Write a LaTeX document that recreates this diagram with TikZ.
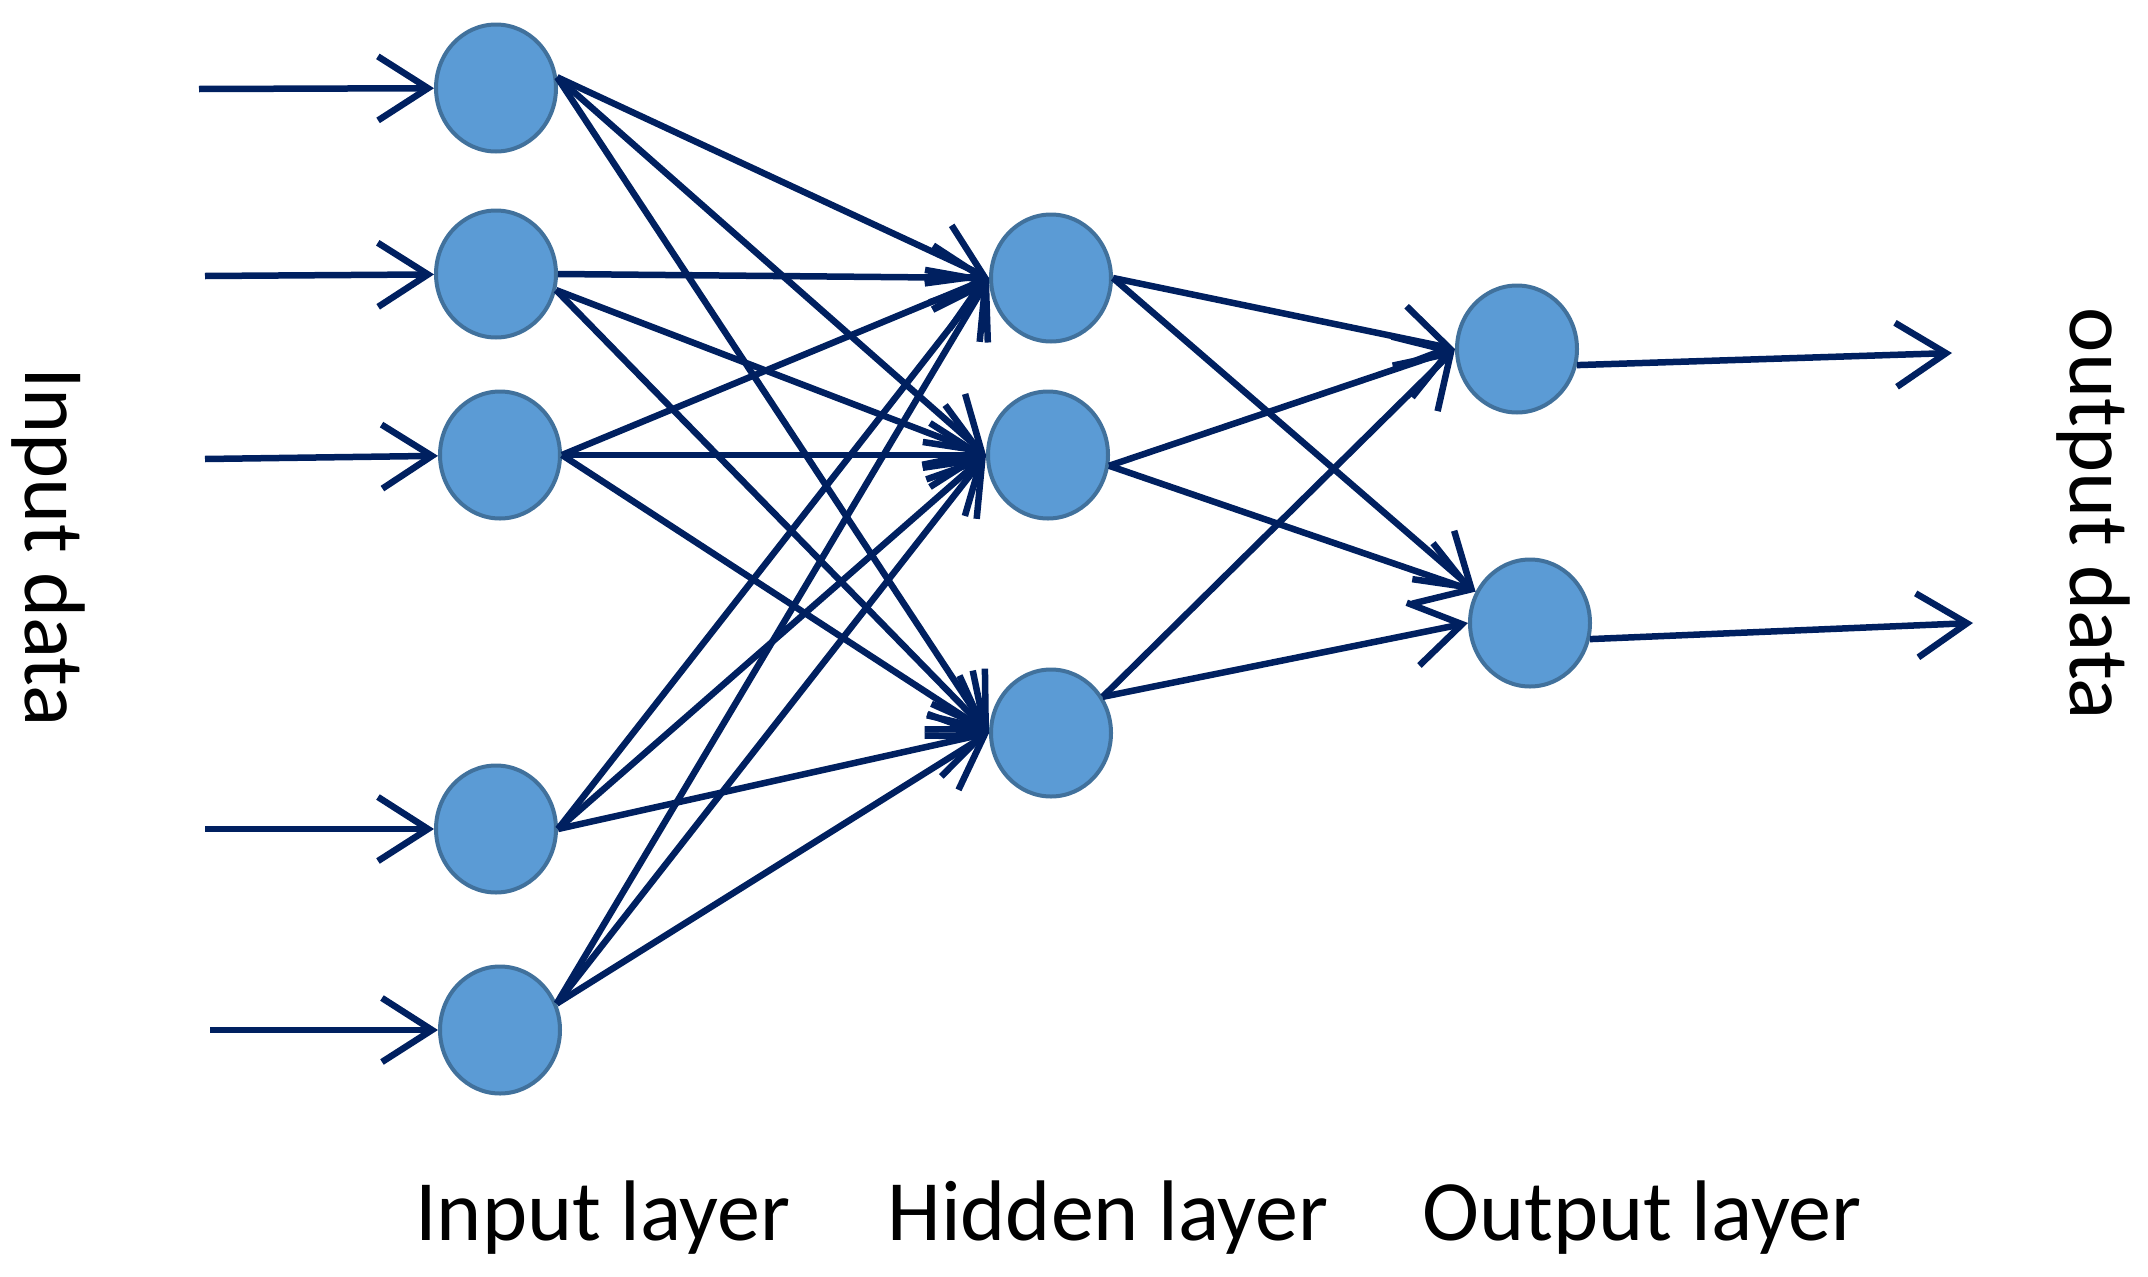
\documentclass[tikz,border=0pt]{standalone}
\usepackage{fontspec}
\setmainfont{Carlito}
\usepackage{tikz}
\usetikzlibrary{arrows.meta, shapes.geometric}
\definecolor{nnFill}{HTML}{5B9BD5}
\definecolor{nnRim}{HTML}{41719C}
\definecolor{nnNavy}{HTML}{002060}
\tikzstyle{neuron} =[ellipse, fill=nnFill, draw=nnRim, line width=4pt, minimum width=120pt, minimum height=127pt, inner sep=0pt]
\tikzstyle{wire} =[draw, -{Straight Barb[length=50pt,width=64pt]}, line width=6.5pt, nnNavy]
\tikzstyle{caption} =[font=\fontsize{86}{100}\selectfont, text=black, inner sep=0pt]

\begin{document}
\begin{tikzpicture}[x=1pt, y=-1pt]
\useasboundingbox (0,0) rectangle (2148,1277);

\node (in1) [neuron] at (496,88) {};
\node (in2) [neuron] at (496,274) {};
\node (in3) [neuron] at (500,455) {};
\node (in4) [neuron] at (496,829) {};
\node (in5) [neuron] at (500,1030) {};

\node (hid1) [neuron] at (1051,278) {};
\node (hid2) [neuron] at (1048,455) {};
\node (hid3) [neuron] at (1051,733) {};

\node (out1) [neuron] at (1517,349) {};
\node (out2) [neuron] at (1530,623) {};

\coordinate (src1) at (199,89);
\coordinate (src2) at (205,276);
\coordinate (src3) at (205,459);
\coordinate (src4) at (205,829);
\coordinate (src5) at (210,1030);
\coordinate (dst1) at (1952,353);
\coordinate (dst2) at (1973,623);

\path
	(src1) edge[wire] (in1) (src2) edge[wire] (in2) (src3) edge[wire] (in3)
	(src4) edge[wire] (in4) (src5) edge[wire] (in5);

\path
	(in1.10) edge[wire] (hid1.west) (in1.10) edge[wire] (hid2.west) (in1.10) edge[wire] (hid3.west)
	(in2.east) edge[wire] (hid1.west) (in2.-15) edge[wire] (hid2.west) (in2.-15) edge[wire] (hid3.west)
	(in3.east) edge[wire] (hid1.west) (in3.east) edge[wire] (hid2.west) (in3.east) edge[wire] (hid3.west)
	(in4.east) edge[wire] (hid1.west) (in4.east) edge[wire] (hid2.west) (in4.east) edge[wire] (hid3.west)
	(in5.25) edge[wire] (hid1.west) (in5.25) edge[wire] (hid2.west) (in5.25) edge[wire] (hid3.west);

\path
	(hid1.east) edge[wire] (out1.west) (hid1.east) edge[wire] (out2.150)
	(hid2.-10) edge[wire] (out1.west) (hid2.-10) edge[wire] (out2.150)
	(hid3.35) edge[wire] (out1.west) (hid3.35) edge[wire] (out2.west);

\path
	(out1.-15) edge[wire] (dst1) (out2.-15) edge[wire] (dst2);

\node (inData) [caption, rotate=-90] at (48,547) {Input data};
\node (outData) [caption, rotate=-90] at (2093,514) {output data};

\node (inLayer) [caption, anchor=base] at (603,1240) {Input layer};
\node (hidLayer) [caption, anchor=base] at (1108,1240) {Hidden layer};
\node (outLayer) [caption, anchor=base] at (1642,1240) {Output layer};
\end{tikzpicture}
\end{document}
